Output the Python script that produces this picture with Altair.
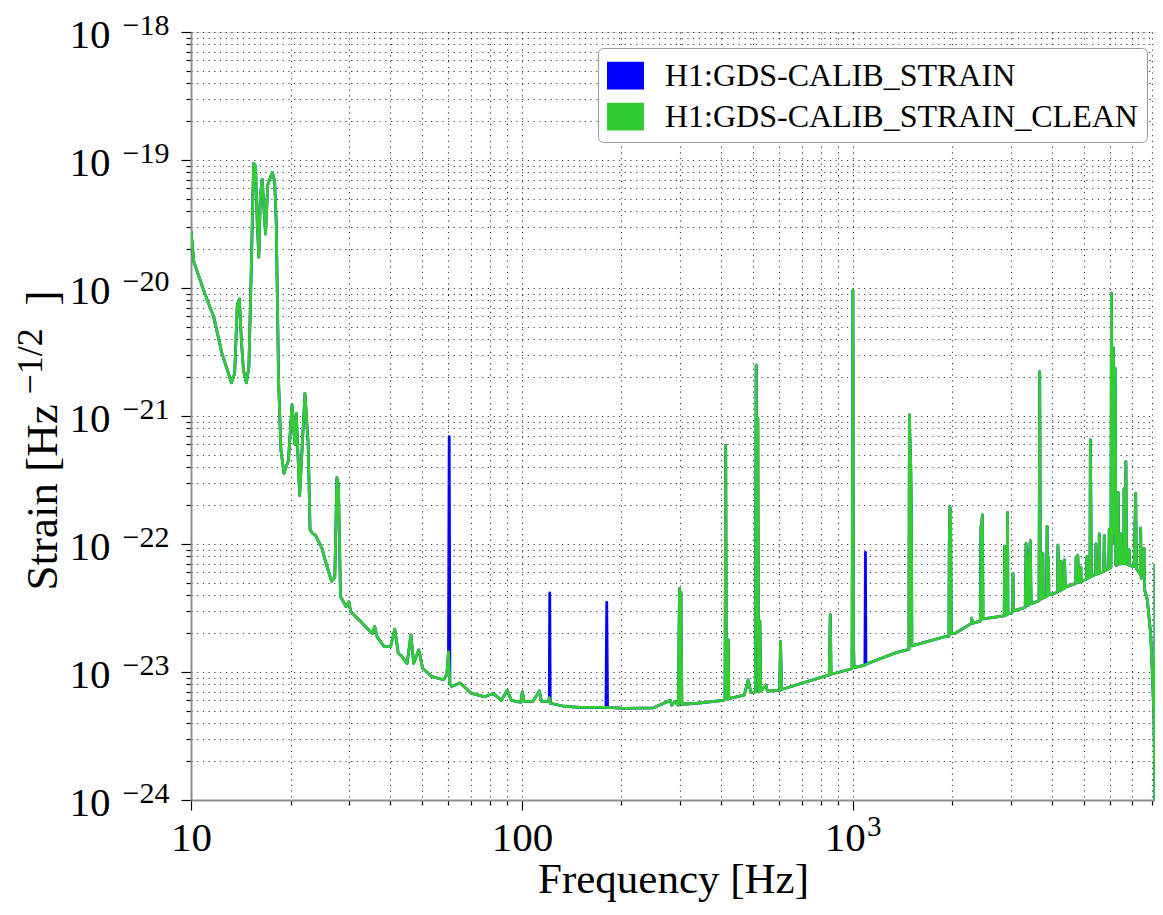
import altair as alt
import pandas as pd

# ---- data (frequency in Hz, strain in Hz^-1/2) ----
CLEAN_FREQ = [
    10.0, 10.2, 11.0, 11.7, 12.4, 13.25, 13.55, 13.8, 14.0, 14.2, 14.4, 14.7, 14.96,
    15.2, 15.46, 15.67, 15.86, 16.03, 16.2, 16.41, 16.6, 16.8, 17.06, 17.6, 17.9,
    18.1, 18.4, 18.7, 19.1, 19.7, 20.2, 20.6, 20.8, 21.3, 22.1, 22.6, 22.9, 23.3,
    23.8, 24.9, 25.5, 26.6, 27.2, 27.6, 27.9, 28.3, 29.4, 30.0, 30.4, 32.6, 35.3,
    35.9, 36.5, 38.3, 40.1, 41.3, 42.3, 43.4, 45.0, 46.2, 47.1, 48.8, 50.1, 53.5,
    58.0, 59.3, 60.0, 60.6, 61.4, 65.0, 70.5, 77.3, 81.8, 86.7, 90.3, 92.9, 99.3,
    100.3, 101.5, 108.0, 113.0, 114.5, 120.3, 121.0, 121.8, 134.0, 150.0, 179.5,
    181.5, 203.0, 250.0, 281.0, 284.0, 290.0, 297.0, 299.5, 301.5, 302.5, 304.5,
    338.0, 406.0, 411.0, 413.0, 415.0, 419.0, 420.5, 422.0, 470.0, 483.0, 492.0,
    508.0, 510.5, 513.0, 516.5, 519.0, 524.0, 527.0, 546.0, 552.0, 601.0, 605.0,
    609.0, 849.0, 855.0, 860.0, 995.0, 1001.0, 1005.0, 1009.0, 1088.0, 1096.0,
    1345.0, 1478.0, 1483.0, 1490.0, 1497.0, 1503.0, 1509.0, 1901.0, 1953.0, 1957.0,
    1965.0, 1975.0, 1984.0,
    2036.0, 2283.0, 2290.0, 2297.0, 2430.0, 2440.0, 2455.0, 2465.0, 2475.0, 2868.0,
    2877.0, 2886.0, 2925.0, 2935.0, 2945.0, 3017.0, 3043.0, 3050.0, 3062.0, 3320.0,
    3340.0, 3360.0, 3390.0, 3420.0, 3440.0, 3460.0, 3655.0, 3672.0, 3690.0, 3745.0,
    3754.0, 3763.0, 3852.0, 3866.0, 3880.0, 3895.0, 3905.0, 3915.0, 4074.0, 4155.0,
    4169.0, 4200.0, 4230.0, 4255.0, 4264.0, 4273.0, 4350.0, 4365.0, 4390.0, 4700.0,
    4720.0, 4730.0, 4745.0, 4786.0, 4820.0, 4880.0, 4890.0, 4900.0, 5080.0, 5105.0,
    5128.0, 5210.0, 5224.0, 5245.0, 5265.0, 5420.0, 5430.0, 5445.0, 5550.0, 5559.0,
    5570.0, 5730.0, 5754.0, 5790.0, 5940.0, 5957.0, 5980.0, 6030.0, 6049.0, 6090.0,
    6135.0, 6170.0, 6210.0, 6240.0, 6320.0, 6340.0, 6360.0, 6450.0, 6460.0, 6475.0,
    6532.0, 6590.0, 6604.0, 6640.0, 6690.0, 6720.0, 6830.0, 6840.0, 6855.0, 7080.0,
    7160.0, 7200.0, 7390.0, 7414.0, 7440.0, 7590.0, 7620.0, 7768.0, 7946.0, 8033.0,
    8131.0, 8180.0, 8186.0, 8192.0,
]
CLEAN_STRAIN = [
    2.8e-20, 1.6e-20, 9.1e-21, 6.0e-21, 3.1e-21, 1.82e-21, 2.15e-21, 7.4e-21, 8.2e-21, 3.9e-21, 2.3e-21, 1.82e-21, 2.4e-21,
    1.3e-20, 9.4e-20, 9.0e-20, 3.2e-20, 1.74e-20, 5.2e-20, 7.1e-20, 4.3e-20, 2.64e-20, 6.4e-20, 8.0e-20, 6.8e-20,
    3.2e-20, 1.8e-21, 5.4e-22, 3.56e-22, 4.5e-22, 1.22e-21, 6.0e-22, 1.05e-21, 2.4e-22, 1.5e-21, 6.1e-22, 1.29e-22, 1.21e-22,
    1.17e-22, 9.2e-23, 7.3e-23, 5.1e-23, 5.5e-23, 3.3e-22, 2.9e-22, 3.9e-23, 3.24e-23, 3.54e-23, 2.96e-23, 2.47e-23, 2.0e-23,
    2.26e-23, 1.89e-23, 1.58e-23, 1.58e-23, 2.16e-23, 1.4e-23, 1.32e-23, 1.17e-23, 1.95e-23, 1.17e-23, 1.49e-23, 1.07e-23, 9.2e-24,
    8.7e-24, 9.5e-24, 1.44e-23, 8.0e-24, 7.7e-24, 8.2e-24, 6.8e-24, 6.4e-24, 6.8e-24, 6.0e-24, 7.2e-24, 6.0e-24, 5.8e-24,
    7.0e-24, 5.9e-24, 5.9e-24, 7.1e-24, 5.9e-24, 5.9e-24, 6.3e-24, 5.7e-24, 5.4e-24, 5.3e-24, 5.3e-24,
    5.3e-24, 5.2e-24, 5.25e-24, 6.0e-24, 5.5e-24, 5.9e-24, 5.5e-24, 4.5e-23, 5.7e-24, 4.2e-23, 5.6e-24,
    5.7e-24, 6.0e-24, 6.1e-24, 5.9e-22, 6.2e-24, 6.2e-24, 1.78e-23, 6.2e-24, 6.6e-24, 8.7e-24, 6.9e-24,
    7.0e-24, 2.5e-21, 2.0e-22, 9.6e-22, 7.0e-24, 2.5e-23, 7.1e-24, 7.9e-24, 7.1e-24, 7.2e-24, 1.73e-23,
    7.3e-24, 9.5e-24, 2.8e-23, 9.6e-24, 1.06e-23, 9.6e-21, 1.7e-23, 1.08e-23, 1.13e-23, 1.15e-23,
    1.41e-23, 1.5e-23, 1.02e-21, 6.0e-22, 4.0e-22, 1.77e-22, 1.6e-23, 1.89e-23, 1.9e-23, 9.6e-23,
    1.96e-22, 1.8e-22, 2.0e-23,
    2.0e-23, 2.4e-23, 2.63e-23, 2.4e-23, 2.5e-23, 1.36e-22, 1.5e-22, 1.69e-22, 2.6e-23, 2.75e-23,
    9.6e-23, 2.76e-23, 2.8e-23, 1.76e-22, 2.85e-23, 2.88e-23, 2.95e-23, 5.9e-23, 3.0e-23, 3.2e-23,
    1.01e-22, 6.0e-23, 3.3e-23, 8.0e-23, 1.06e-22, 3.4e-23, 3.6e-23, 2.22e-21, 3.7e-23, 3.75e-23,
    8.5e-23, 3.8e-23, 3.9e-23, 1.37e-22, 6.0e-23, 4.0e-23, 7.9e-23, 4.0e-23, 4.12e-23, 4.2e-23,
    9.8e-23, 6.0e-23, 4.3e-23, 4.35e-23, 7.3e-23, 4.4e-23, 4.5e-23, 7.5e-23, 4.6e-23, 4.9e-23,
    4.9e-23, 7.9e-23, 5.0e-23, 8.2e-23, 5.0e-23, 5.1e-23, 6.6e-23, 5.1e-23, 5.3e-23, 8.0e-23,
    5.4e-23, 5.5e-23, 6.5e-22, 1.85e-22, 5.6e-23, 5.8e-23, 1.0e-22, 5.8e-23, 5.9e-23, 1.2e-22,
    5.9e-23, 6.1e-23, 1.16e-22, 6.2e-23, 6.4e-23, 1.3e-22, 6.5e-23, 6.6e-23, 9.1e-21, 1.0e-22,
    3.4e-21, 1.2e-22, 2.36e-21, 6.8e-23, 6.9e-23, 2.52e-22, 7.0e-23, 7.0e-23, 1.2e-22, 7.0e-23,
    7.07e-23, 7.0e-23, 2.7e-22, 7.1e-23, 4.4e-22, 7.0e-23, 6.9e-23, 9.0e-23, 6.8e-23, 6.65e-23,
    2.49e-22, 6.4e-23, 5.8e-23, 1.33e-22, 5.4e-23, 9.3e-23, 4.4e-23, 3.65e-23, 2.0e-23, 1.04e-23,
    4.5e-24, 1.3e-24, 5.0e-25, 7.0e-23,
]
# lines present only in the uncleaned channel
EXTRA_FREQ = [60.3, 121.4, 180.5, 1092.0]
EXTRA_STRAIN = [6.9e-22, 4.14e-23, 3.5e-23, 8.6e-23]

SERIES = ["H1:GDS-CALIB_STRAIN", "H1:GDS-CALIB_STRAIN_CLEAN"]
COLORS = ["#0000ff", "#32cd32"]

X_DECADES = [1, 2, 3]
X_MAJOR = [10, 100, 1000]
Y_EXPONENTS = [-24, -23, -22, -21, -20, -19, -18]
MULTIPLIERS = [1, 2, 3, 4, 5, 6, 7, 8, 9]

# ---- tables ----
df_raw = pd.DataFrame({"freq": CLEAN_FREQ + EXTRA_FREQ,
                       "strain": CLEAN_STRAIN + EXTRA_STRAIN,
                       "series": SERIES[0]})
df_clean = pd.DataFrame({"freq": CLEAN_FREQ, "strain": CLEAN_STRAIN, "series": SERIES[1]})
df_keys = pd.concat([df_raw, df_clean], ignore_index=True)

x_ticks = [m * 10 ** d for d in X_DECADES for m in MULTIPLIERS if m * 10 ** d <= 8192]
y_major = [10.0 ** e for e in Y_EXPONENTS]
y_ticks = [m * 10.0 ** e for e in Y_EXPONENTS[:-1] for m in MULTIPLIERS] + [y_major[-1]]

FONT = "Liberation Serif, Times New Roman, DejaVu Serif, serif"
MAJOR = "abs(log(datum.value)/LN10 - round(log(datum.value)/LN10)) < 0.001"

xs = alt.Scale(type="log", domain=[10, 8192], nice=False)
ys = alt.Scale(type="log", domain=[1e-24, 1e-18], nice=False)

grid_kw = dict(grid=True, gridDash=[1.2, 4.5], gridColor="#000000", gridOpacity=0.75, gridWidth=1.1)
tick_kw = dict(ticks=True, tickColor="#000000", tickWidth=1.2,
               tickSize={"condition": {"test": MAJOR, "value": 10}, "value": 5},
               domain=True, domainColor="#8f8f8f", domainWidth=2, labels=False)

PLOT_W = 964
PLOT_H = 768

ax_x1 = alt.Axis(orient="bottom", values=x_ticks, title="Frequency [Hz]", titleFont=FONT,
                 titleFontSize=43, titleFontWeight="normal", titleColor="black",
                 titleX=PLOT_W / 2, titleY=92, titleBaseline="alphabetic", titleAlign="center",
                 **grid_kw, **tick_kw)
ax_y1 = alt.Axis(orient="left", values=y_ticks, title="Strain [Hz", titleFont=FONT,
                 titleFontSize=45, titleFontWeight="normal", titleColor="black",
                 titleAngle=270, titleAlign="left", titleBaseline="alphabetic",
                 titleX=-135, titleY=558, **grid_kw, **tick_kw)

plain = dict(grid=False, ticks=False, tickSize=0, domain=False, labelFont=FONT,
             labelColor="black", labelFlush=False)

ax_x2 = alt.Axis(orient="bottom", values=X_MAJOR, title=None,
                 labelExpr="datum.value == 100 ? '100' : '10'", labelFontSize=41,
                 labelBaseline="top", labelPadding=18,
                 labelOffset={"condition": {"test": "datum.value == 1000", "value": -8}, "value": 0},
                 **plain)
ax_x3 = alt.Axis(orient="bottom", values=[1000], title=None, labelExpr="'3'",
                 labelFontSize=29, labelBaseline="top", labelPadding=12, labelOffset=21,
                 **plain)
ax_y2 = alt.Axis(orient="left", values=y_major, labelExpr="'10'", labelFontSize=41,
                 labelPadding=81, labelOffset=3, labelAlign="right",
                 title="\u22121/2", titleFont=FONT, titleFontSize=36, titleFontWeight="normal",
                 titleColor="black", titleAngle=270, titleAlign="left",
                 titleBaseline="alphabetic", titleX=-150, titleY=362, **plain)
ax_y3 = alt.Axis(orient="left", values=y_major,
                 labelExpr="'\u2212' + (-round(log(datum.value)/LN10))", labelFontSize=30,
                 labelPadding=22, labelOffset=-7, labelAlign="right",
                 title="]", titleFont=FONT, titleFontSize=45, titleFontWeight="normal",
                 titleColor="black", titleAngle=270, titleAlign="left",
                 titleBaseline="alphabetic", titleX=-135, titleY=273, **plain)

legend = alt.Legend(title=None, orient="none", legendX=407, legendY=16,
                    fillColor="white", strokeColor="#9a9a9a", cornerRadius=5, padding=9,
                    symbolType="M-1,-0.75H1V0.75H-1Z", symbolSize=1369, symbolStrokeWidth=0,
                    symbolOpacity=1, labelFont=FONT, labelFontSize=32, labelColor="black",
                    labelOffset=21, rowPadding=6, labelLimit=0)

raw_line = alt.Chart(df_raw).mark_line(
    color=COLORS[0], strokeWidth=2.8, clip=True, strokeJoin="round"
).encode(
    x=alt.X("freq:Q", scale=xs, axis=ax_x1),
    y=alt.Y("strain:Q", scale=ys, axis=ax_y1),
)
clean_line = alt.Chart(df_clean).mark_line(
    color=COLORS[1], strokeWidth=2.8, clip=True, strokeJoin="round"
).encode(
    x=alt.X("freq:Q", scale=xs, axis=ax_x2),
    y=alt.Y("strain:Q", scale=ys, axis=ax_y2),
)
keys = alt.Chart(df_keys).mark_square(size=0, filled=True, clip=True).encode(
    x=alt.X("freq:Q", scale=xs, axis=ax_x3),
    y=alt.Y("strain:Q", scale=ys, axis=ax_y3),
    fill=alt.Fill("series:N", scale=alt.Scale(domain=SERIES, range=COLORS), legend=legend),
)

chart = (
    alt.layer(raw_line, clean_line, keys)
    .resolve_axis(x="independent", y="independent")
    .properties(width=PLOT_W, height=PLOT_H, autosize=alt.AutoSizeParams(type="none"),
                padding={"left": 183, "top": 24, "right": 0, "bottom": 102})
    .configure_view(stroke="#8f8f8f", strokeWidth=2)
    .configure_legend(strokeWidth=2)
    .configure(font=FONT)
)

chart.save("out.html", embed_options={"renderer": "svg", "actions": False})
